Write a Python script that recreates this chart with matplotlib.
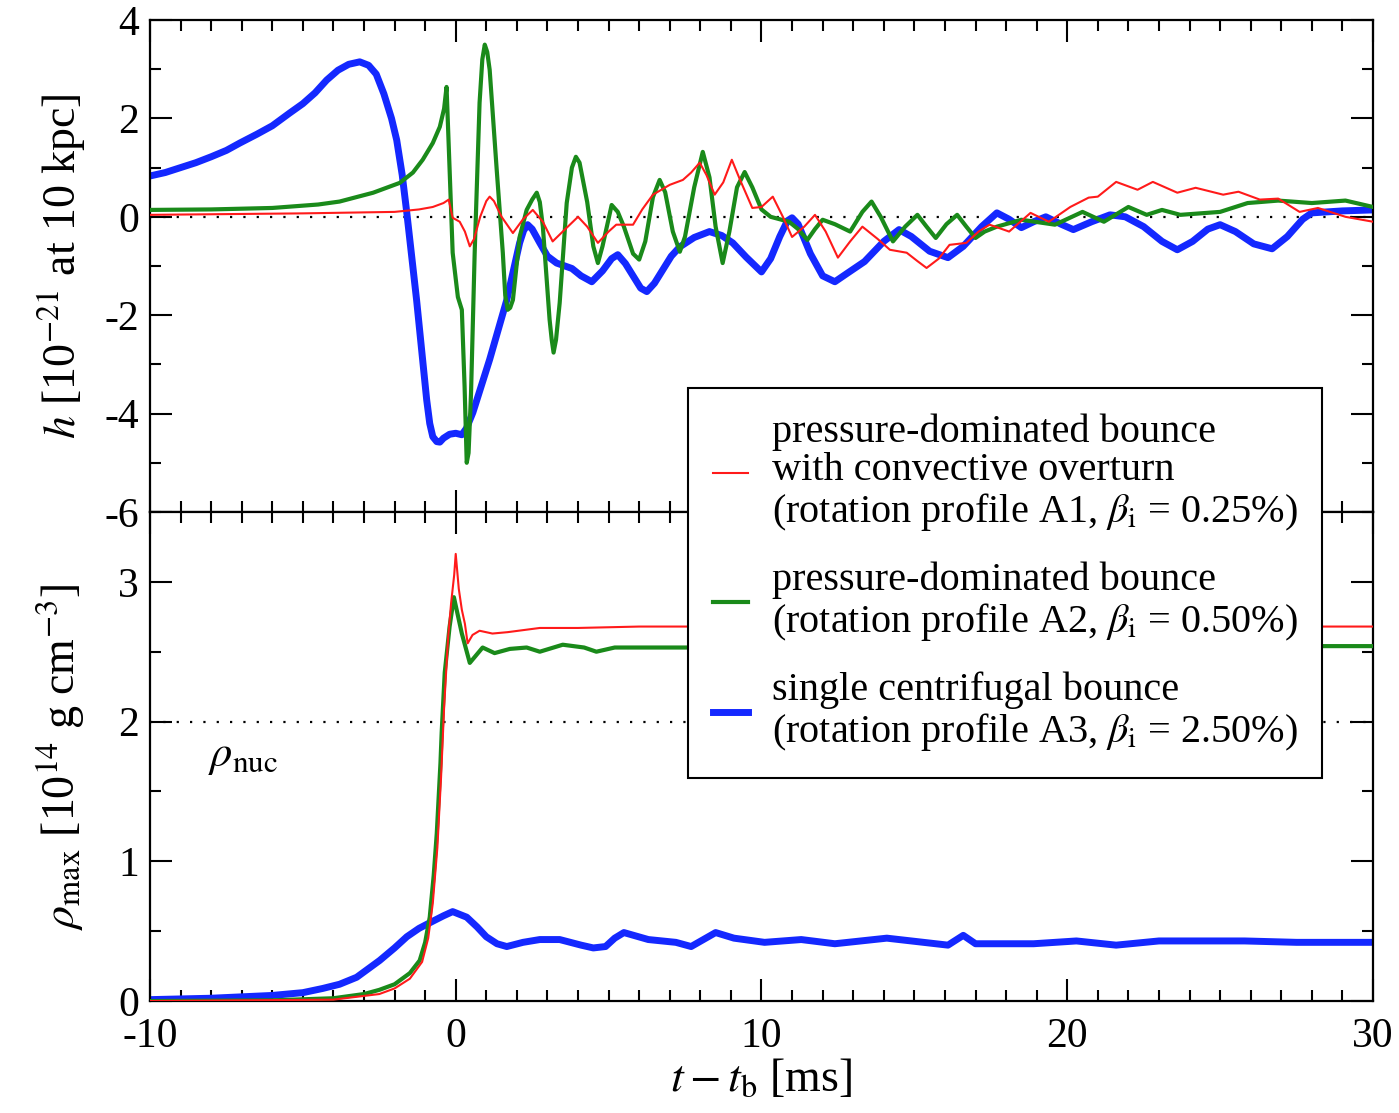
import matplotlib

matplotlib.use("Agg")
import matplotlib.pyplot as plt
from matplotlib.lines import Line2D
from matplotlib.ticker import MultipleLocator

# gravitational wave strain h [1e-21 at 10 kpc]
t_h_a1 = [-10.0, -5.0, -2.0, -1.2, -0.75, -0.4, -0.23, -0.1, 0.13, 0.3, 0.46, 0.6, 0.8,
          1.0, 1.11, 1.25, 1.5, 1.87, 2.2, 2.52, 2.85, 3.17, 3.5, 4.0, 4.3, 4.65, 5.0,
          5.25, 5.8, 6.1, 6.45, 7.0, 7.43, 7.7, 7.98, 8.2, 8.47, 8.75, 9.03, 9.3, 9.7,
          10.0, 10.37, 10.7, 11.0, 11.4, 11.75, 12.1, 12.5, 12.9, 13.3, 13.8, 14.2, 14.75,
          15.1, 15.4, 15.8, 16.15, 16.7, 17.1, 17.46, 18.1, 18.8, 19.4, 20.1, 20.7, 21.0,
          21.6, 22.3, 22.8, 23.6, 24.2, 25.1, 25.6, 26.3, 26.9, 27.6, 28.2, 29.1, 30.0]
h_a1 = [0.04, 0.07, 0.1, 0.15, 0.2, 0.28, 0.35, -0.02, -0.1, -0.3, -0.6, -0.45, 0.0,
        0.32, 0.41, 0.32, 0.0, -0.33, -0.05, 0.14, -0.1, -0.5, -0.3, 0.0, -0.2, -0.53,
        -0.3, -0.16, -0.16, 0.15, 0.45, 0.65, 0.75, 0.9, 1.1, 0.85, 0.45, 0.7, 1.16,
        0.75, 0.18, 0.2, 0.41, 0.0, -0.41, -0.2, 0.04, -0.3, -0.83, -0.5, -0.2, -0.45,
        -0.67, -0.73, -0.9, -1.04, -0.85, -0.57, -0.53, -0.3, -0.16, -0.3, 0.08, -0.1,
        0.2, 0.39, 0.41, 0.71, 0.55, 0.71, 0.49, 0.59, 0.45, 0.51, 0.35, 0.37, 0.1,
        0.18, 0.0, -0.1]

t_h_a2 = [-10.0, -8.0, -6.0, -4.5, -3.8, -2.7, -1.83, -1.4, -1.08, -0.75, -0.52, -0.38,
          -0.3, -0.2, -0.1, 0.07, 0.2, 0.29, 0.36, 0.42, 0.5, 0.62, 0.78, 0.87, 0.95,
          1.03, 1.11, 1.34, 1.54, 1.62, 1.7, 1.78, 1.87, 2.09, 2.32, 2.5, 2.65, 2.75,
          2.85, 3.07, 3.14, 3.2, 3.28, 3.4, 3.63, 3.8, 3.93, 4.05, 4.3, 4.5, 4.65, 4.8,
          5.1, 5.3, 5.5, 5.8, 6.0, 6.2, 6.45, 6.67, 6.85, 7.1, 7.33, 7.5, 7.8, 8.08, 8.3,
          8.5, 8.73, 8.95, 9.2, 9.45, 9.7, 10.0, 10.3, 10.9, 11.2, 11.5, 11.75, 12.0,
          12.4, 12.9, 13.3, 13.6, 13.9, 14.3, 14.7, 15.1, 15.4, 15.7, 16.05, 16.4, 16.7,
          17.0, 17.3, 17.7, 18.5, 19.6, 20.5, 21.2, 22.0, 22.6, 23.1, 23.7, 25.0, 25.9,
          26.9, 28.0, 29.1, 30.0]
h_a2 = [0.14, 0.15, 0.18, 0.25, 0.31, 0.49, 0.69, 0.9, 1.16, 1.5, 1.83, 2.2, 2.64, 0.96,
        -0.73, -1.63, -1.89, -3.45, -5.0, -4.8, -3.6, -0.73, 2.32, 3.2, 3.5, 3.35, 2.99,
        0.96, -0.73, -1.6, -1.89, -1.85, -1.69, -0.41, 0.14, 0.35, 0.49, 0.3, -0.2,
        -2.09, -2.5, -2.76, -2.5, -1.75, 0.28, 1.0, 1.22, 1.1, 0.3, -0.6, -0.94, -0.6,
        0.24, 0.1, -0.2, -0.75, -0.87, -0.5, 0.4, 0.75, 0.5, -0.3, -0.71, -0.4, 0.6,
        1.32, 0.8, -0.2, -0.94, -0.3, 0.6, 0.91, 0.6, 0.15, 0.0, -0.1, -0.25, -0.47,
        -0.25, -0.06, -0.15, -0.3, 0.1, 0.31, 0.0, -0.5, -0.2, 0.04, -0.2, -0.43, -0.15,
        0.04, -0.2, -0.43, -0.3, -0.2, -0.06, -0.16, 0.1, -0.1, 0.2, 0.04, 0.14, 0.04,
        0.1, 0.28, 0.33, 0.28, 0.33, 0.2]

t_h_a3 = [-10.0, -9.5, -9.0, -8.5, -8.0, -7.5, -7.06, -6.5, -6.0, -5.43, -5.0, -4.6,
          -4.22, -3.85, -3.5, -3.14, -2.85, -2.6, -2.35, -2.1, -1.93, -1.75, -1.6, -1.28,
          -0.95, -0.85, -0.75, -0.62, -0.52, -0.4, -0.2, 0.0, 0.2, 0.35, 0.56, 1.11, 1.67,
          2.09, 2.22, 2.35, 2.5, 2.75, 3.0, 3.3, 3.8, 4.1, 4.45, 4.8, 5.1, 5.3, 5.55, 5.8,
          6.05, 6.25, 6.5, 6.8, 7.05, 7.33, 7.8, 8.3, 8.7, 9.06, 9.5, 10.0, 10.3, 10.6,
          10.85, 11.0, 11.2, 11.6, 12.0, 12.4, 12.8, 13.37, 14.0, 14.5, 14.9, 15.5, 16.1,
          16.6, 17.2, 17.7, 18.1, 18.5, 18.9, 19.3, 19.8, 20.2, 20.8, 21.4, 21.9, 22.5,
          23.1, 23.6, 24.1, 24.6, 25.0, 25.5, 26.1, 26.7, 27.2, 27.7, 28.0, 29.0, 30.0]
h_a3 = [0.83, 0.9, 1.0, 1.1, 1.22, 1.35, 1.5, 1.68, 1.85, 2.11, 2.3, 2.52, 2.78, 2.98,
        3.1, 3.15, 3.08, 2.9, 2.5, 2.0, 1.56, 0.85, 0.08, -1.69, -3.72, -4.2, -4.47,
        -4.57, -4.58, -4.5, -4.42, -4.4, -4.43, -4.3, -3.98, -2.9, -1.69, -0.53, -0.28,
        -0.16, -0.25, -0.53, -0.8, -0.94, -1.05, -1.2, -1.32, -1.1, -0.85, -0.77,
        -0.95, -1.2, -1.45, -1.52, -1.35, -1.05, -0.8, -0.61, -0.42, -0.3, -0.38,
        -0.53, -0.82, -1.12, -0.85, -0.4, -0.08, -0.02, -0.15, -0.75, -1.2, -1.32,
        -1.15, -0.91, -0.5, -0.26, -0.4, -0.7, -0.83, -0.6, -0.2, 0.08, -0.05, -0.22,
        -0.1, 0.0, -0.15, -0.26, -0.1, 0.04, 0.0, -0.2, -0.5, -0.67, -0.5, -0.25, -0.16,
        -0.3, -0.55, -0.65, -0.4, -0.05, 0.08, 0.12, 0.14]

# maximum density [1e14 g/cm^3]
t_rho_a1 = [-10.0, -4.0, -2.5, -2.0, -1.5, -1.1, -0.9, -0.75, -0.6, -0.48, -0.38, -0.25,
            -0.15, -0.05, 0.0, 0.1, 0.2, 0.3, 0.39, 0.55, 0.78, 1.2, 1.7, 2.75, 4.0,
            6.0, 10.0, 30.0]
rho_a1 = [0.0, 0.01, 0.05, 0.09, 0.16, 0.28, 0.45, 0.7, 1.1, 1.6, 2.1, 2.6, 2.85, 3.05,
          3.2, 2.95, 2.8, 2.7, 2.56, 2.62, 2.65, 2.63, 2.64, 2.67, 2.67, 2.68, 2.68, 2.68]

t_rho_a2 = [-10.0, -6.0, -4.0, -3.0, -2.5, -2.0, -1.5, -1.18, -1.0, -0.85, -0.72, -0.62,
            -0.5, -0.46, -0.36, -0.2, -0.06, 0.2, 0.46, 0.88, 1.27, 1.77, 2.32, 2.75,
            3.5, 4.2, 4.6, 5.2, 6.0, 7.5, 28.0, 30.0]
rho_a2 = [0.0, 0.005, 0.02, 0.05, 0.08, 0.12, 0.2, 0.29, 0.42, 0.6, 0.9, 1.2, 1.7, 1.92,
          2.35, 2.68, 2.89, 2.63, 2.42, 2.53, 2.49, 2.52, 2.53, 2.5, 2.55, 2.53, 2.5,
          2.53, 2.53, 2.53, 2.54, 2.54]

t_rho_a3 = [-10.0, -8.0, -6.0, -5.0, -4.35, -3.8, -3.24, -2.49, -2.0, -1.6, -1.2, -0.85,
            -0.4, -0.1, 0.36, 0.7, 1.0, 1.35, 1.67, 2.2, 2.75, 3.4, 4.1, 4.5, 4.9, 5.2,
            5.5, 6.3, 7.2, 7.7, 8.1, 8.5, 9.1, 10.1, 11.3, 12.4, 14.1, 16.1, 16.6, 17.0,
            18.9, 20.3, 21.6, 23.0, 25.8, 27.5, 30.0]
rho_a3 = [0.01, 0.02, 0.04, 0.06, 0.09, 0.12, 0.17, 0.29, 0.38, 0.46, 0.52, 0.56, 0.61,
          0.64, 0.6, 0.53, 0.46, 0.41, 0.39, 0.42, 0.44, 0.44, 0.4, 0.38, 0.39, 0.45,
          0.49, 0.44, 0.42, 0.39, 0.44, 0.49, 0.45, 0.42, 0.44, 0.41, 0.45, 0.4, 0.47,
          0.41, 0.41, 0.43, 0.4, 0.43, 0.43, 0.42, 0.42]

rho_nuc = 2.0

labels = [
    "pressure-dominated bounce\nwith convective overturn\n"
    r"(rotation profile A1, $\beta_\mathrm{i}$ = 0.25%)",
    "pressure-dominated bounce\n"
    r"(rotation profile A2, $\beta_\mathrm{i}$ = 0.50%)",
    "single centrifugal bounce\n"
    r"(rotation profile A3, $\beta_\mathrm{i}$ = 2.50%)",
]
colors = ["#ff1a1a", "#1a8a1a", "#1428ff"]
widths = [1.5, 3.0, 5.0]

plt.rcParams["font.family"] = ["Liberation Serif", "DejaVu Serif"]
plt.rcParams["mathtext.fontset"] = "stix"
plt.rcParams["axes.unicode_minus"] = False


def style_axis(ax):
    for side in ax.spines.values():
        side.set_linewidth(1.6)
    ax.tick_params(which="both", direction="in", top=True, right=True,
                   labelsize=30, width=1.5, pad=8)
    ax.tick_params(which="major", length=16)
    ax.tick_params(which="minor", length=8)
    ax.xaxis.set_major_locator(MultipleLocator(10))
    ax.xaxis.set_minor_locator(MultipleLocator(1))


fig = plt.figure(figsize=(13.99, 11.13), dpi=100)
ax_h = fig.add_axes([0.1072, 0.54, 0.8742, 0.442])
ax_r = fig.add_axes([0.1072, 0.1006, 0.8742, 0.4394], sharex=ax_h)

ax_h.axhline(0, color="black", lw=1.6, ls=(0, (1, 5)), zorder=1)
ax_h.plot(t_h_a1, h_a1, color=colors[0], lw=widths[0], zorder=4)
ax_h.plot(t_h_a2, h_a2, color=colors[1], lw=widths[1], zorder=3)
ax_h.plot(t_h_a3, h_a3, color=colors[2], lw=widths[2], zorder=2)
ax_h.set_xlim(-10, 30)
ax_h.set_ylim(-6, 4)
ax_h.yaxis.set_major_locator(MultipleLocator(2))
ax_h.yaxis.set_minor_locator(MultipleLocator(1))
style_axis(ax_h)
ax_h.tick_params(labelbottom=False)
ax_h.set_ylabel(r"$h$ [10$^{-21}$ at 10 kpc]", fontsize=33, labelpad=12)

ax_r.axhline(rho_nuc, color="black", lw=1.6, ls=(0, (1, 5)), zorder=1)
ax_r.plot(t_rho_a1, rho_a1, color=colors[0], lw=widths[0], zorder=4)
ax_r.plot(t_rho_a2, rho_a2, color=colors[1], lw=widths[1], zorder=3)
ax_r.plot(t_rho_a3, rho_a3, color=colors[2], lw=widths[2], zorder=2)
ax_r.set_ylim(0, 3.5)
ax_r.yaxis.set_major_locator(MultipleLocator(1))
ax_r.yaxis.set_minor_locator(MultipleLocator(0.5))
style_axis(ax_r)
ax_r.tick_params(axis="x", pad=12)
ax_r.set_ylabel(r"$\rho_\mathrm{max}$ [10$^{14}$ g cm$^{-3}$]", fontsize=33, labelpad=22)
ax_r.set_xlabel(r"$t - t_\mathrm{b}$ [ms]", fontsize=33, labelpad=1)
ax_r.text(-8.1, 1.75, r"$\rho_\mathrm{nuc}$", fontsize=32, va="center", ha="left")

# one legend box sitting across both panels
handles = [Line2D([], [], color=c, lw=w) for c, w in zip(colors, widths)]
leg = fig.legend(handles, labels, loc="upper left", bbox_to_anchor=(0.492, 0.651),
                 borderaxespad=0, fontsize=29, frameon=True, fancybox=False,
                 handlelength=0.85, handletextpad=0.6, labelspacing=0.72,
                 borderpad=0.62, edgecolor="black", framealpha=1)
leg.get_frame().set_linewidth(1.5)
for txt in leg.get_texts():
    txt.set_linespacing(1.05)

fig.savefig("out.png", dpi=100)
